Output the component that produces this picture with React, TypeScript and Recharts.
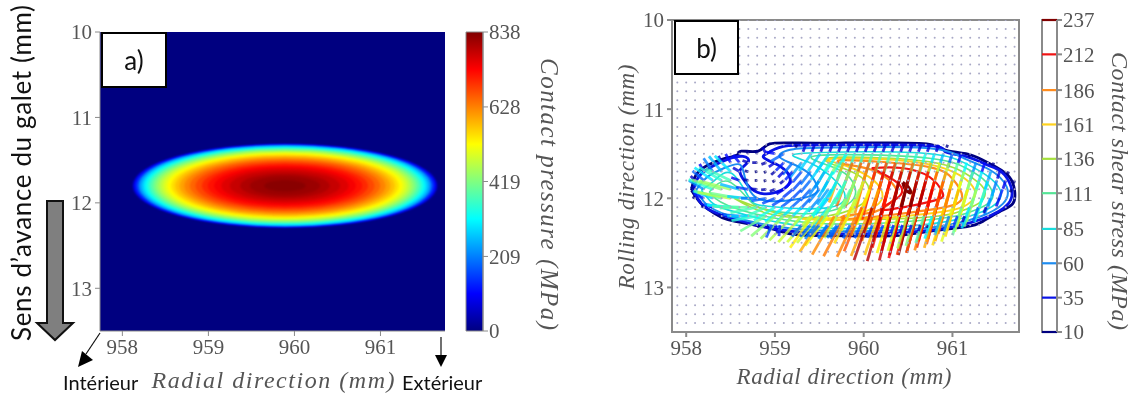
import React from "react";
import { ComposedChart, Line, Scatter, XAxis, YAxis, ReferenceArea, ReferenceLine } from "recharts";

// ---------- panel a: pressure field ----------
const radialTicks = [958, 959, 960, 961];
const rollingTicks = [10, 11, 12, 13];
const pressureTicks = [0, 209, 419, 628, 838];
const pressureCentre = { x: 959.89, y: 11.8 };
const pressureLevels = [60,100,150,200,225,250,275,300,325,350,375,400,425,450,475,500,525,550,575,600,625,650,675,700,720,740,760,780,800,815,830];
const pressureHalfX = [1.77,1.755,1.735,1.705,1.692,1.676,1.659,1.64,1.619,1.596,1.571,1.543,1.514,1.482,1.447,1.41,1.369,1.324,1.278,1.226,1.17,1.108,1.041,0.966,0.898,0.824,0.74,0.641,0.523,0.409,0.242];
const pressureHalfY = [0.488,0.484,0.478,0.47,0.466,0.462,0.457,0.452,0.446,0.44,0.433,0.425,0.417,0.408,0.399,0.388,0.377,0.365,0.352,0.338,0.322,0.305,0.287,0.266,0.247,0.227,0.204,0.177,0.144,0.113,0.067];

// ---------- panel b: quiver grid and shear vectors ----------
const gridX = [957.9,958,958.1,958.2,958.3,958.4,958.5,958.6,958.7,958.8,958.9,959,959.1,959.2,959.3,959.4,959.5,959.6,959.7,959.8,959.9,960,960.1,960.2,960.3,960.4,960.5,960.6,960.7,960.8,960.9,961,961.1,961.2,961.3,961.4,961.5,961.6,961.7];
const gridY = [10,10.1,10.2,10.3,10.4,10.5,10.6,10.7,10.8,10.9,11,11.1,11.2,11.3,11.4,11.5,11.6,11.7,11.8,11.9,12,12.1,12.2,12.3,12.4,12.5,12.6,12.7,12.8,12.9,13,13.1,13.2,13.3,13.4];
const shearRowY = [11.4,11.5,11.6,11.7,11.8,11.9,12.0,12.1,12.2,12.3];
const shearRowStart = [959.1,958.6,958.4,958.2,958.1,958.1,958.1,958.2,958.4,958.8];
const shearTau = [
  [12,30,30,30,30,30,30,30,30,30,30,30,30,30,30,30,30,12],
  [12,15,15,30,40,60,85,85,90,95,100,102,105,108,110,110,110,110,110,105,100,90,80,60,40,15],
  [30,40,40,25,20,20,30,45,62,75,85,105,125,170,186,188,190,190,195,195,190,185,178,165,150,135,115,95,70,40,15],
  [35,65,80,90,30,15,10,10,20,32,45,55,65,78,92,110,125,140,175,200,212,218,220,220,218,210,190,175,155,135,115,90,75,30,12],
  [25,60,90,105,110,35,20,10,10,12,20,40,55,62,70,80,90,105,122,140,165,185,205,232,235,228,222,210,188,170,150,130,110,90,65,35,12],
  [20,70,105,125,130,80,50,25,20,22,35,50,55,60,68,75,85,100,115,130,150,170,195,225,237,230,225,215,205,185,170,155,135,112,80,45,12],
  [12,45,85,115,135,120,85,65,60,55,55,58,60,62,70,85,95,112,128,142,160,180,205,225,235,235,225,205,190,178,160,140,120,100,70,35],
  [12,40,70,95,110,115,110,108,100,95,90,90,100,95,90,105,125,140,160,190,225,225,220,210,198,190,180,170,160,145,118,90,60,25],
  [15,35,65,85,105,120,125,130,135,140,140,140,150,155,170,178,182,180,172,165,155,145,135,125,112,95,80,65,50,25],
  [12,25,35,45,55,60,62,62,65,65,68,65,62,60,58,55,50,45,40,35,25,12],
];
const shearTilt = [
  [20,20,20,20,20,20,20,20,20,20,20,20,20,20,20,20,20,20],
  [150,150,150,150,100,60,35,35,35,35,35,18,18,18,18,18,18,18,18,18,18,18,18,18,18,18],
  [155,150,140,110,90,70,55,45,40,38,35,30,27,20,20,20,17,16,16,16,16,16,16,16,16,17,17,17,18,18,18],
  [150,145,140,135,120,100,80,60,50,45,42,40,38,32,28,25,22,20,15,15,15,15,15,15,15,15,16,16,16,17,17,18,18,18,18],
  [135,130,125,120,115,110,100,90,75,60,50,45,42,40,35,30,28,25,22,20,18,15,14,14,14,14,15,15,15,15,16,16,17,17,18,18,18],
  [125,120,112,108,105,105,100,95,85,70,58,50,45,42,40,36,32,30,26,24,20,18,15,14,14,14,15,15,15,15,16,16,17,18,18,20,20],
  [120,115,110,105,100,100,95,90,80,68,58,52,48,44,40,38,34,30,27,24,21,18,15,14,14,14,15,15,15,16,16,17,18,18,20,20],
  [115,105,100,95,92,88,78,66,58,52,48,45,42,40,38,35,32,28,25,22,19,16,14,14,15,15,16,16,17,18,18,20,20,22],
  [105,100,95,90,80,60,50,46,44,42,42,40,38,35,33,30,28,25,22,19,17,16,16,17,17,18,18,19,20,22],
  [-40,-40,-20,5,25,40,42,42,40,38,35,32,30,27,25,22,20,18,18,18,18,20],
];

// ---------- panel b: contour lines, [radial, rolling] ----------
const shearLevels = [10,35,60,85,111,136,161,186,212,237];
const contour10 = [[958.06,11.91],[958.11,11.74],[958.24,11.63],[958.41,11.56],[958.58,11.51],[958.62,11.47],[958.81,11.47],[958.94,11.39],[959.26,11.38],[959.79,11.38],[960.36,11.38],[960.77,11.4],[960.92,11.46],[961.15,11.5],[961.34,11.57],[961.49,11.65],[961.64,11.76],[961.7,11.91],[961.68,12.06],[961.53,12.15],[961.34,12.26],[961.15,12.32],[960.73,12.37],[960.36,12.42],[959.79,12.42],[959.26,12.41],[959.03,12.36],[958.77,12.3],[958.47,12.24],[958.32,12.17],[958.17,12.06],[958.06,11.91]];
const contour35 = [[958.08,11.91],[958.14,11.76],[958.28,11.65],[958.47,11.56],[958.64,11.53],[958.7,11.59],[958.61,11.68],[958.64,11.78],[958.73,11.89],[958.88,11.95],[959.07,11.91],[959.17,11.81],[959.13,11.7],[959,11.61],[958.87,11.54],[958.94,11.48],[959.15,11.41],[959.79,11.4],[960.74,11.41],[960.92,11.48],[961.15,11.53],[961.38,11.62],[961.55,11.7],[961.66,11.87],[961.63,12.06],[961.34,12.23],[960.74,12.36],[959.79,12.4],[959.04,12.35],[958.47,12.21],[958.2,12.09],[958.08,11.91]];
const contour60 = [[958.11,11.91],[958.24,11.76],[958.43,11.66],[958.6,11.62],[958.66,11.76],[958.75,11.96],[958.92,12.03],[959.19,12.02],[959.45,11.95],[959.47,11.85],[959.38,11.72],[959.19,11.61],[959.05,11.53],[959.21,11.45],[959.79,11.43],[960.74,11.44],[961.15,11.56],[961.42,11.68],[961.61,11.87],[961.57,12.06],[961.3,12.21],[960.74,12.33],[959.79,12.37],[959.04,12.32],[958.47,12.19],[958.22,12.06],[958.11,11.91]];
const contour85 = [[958.17,11.91],[958.32,11.8],[958.51,11.72],[958.7,11.98],[958.92,12.09],[959.56,12.11],[959.79,11.98],[959.68,11.8],[959.41,11.61],[959.21,11.51],[959.79,11.48],[960.74,11.5],[961.15,11.61],[961.38,11.74],[961.54,11.91],[961.49,12.06],[961.26,12.18],[960.74,12.29],[959.79,12.34],[959.04,12.27],[958.47,12.13],[958.28,12.04],[958.17,11.91]];
const contour111 = [[958.26,11.93],[958.47,11.81],[958.7,12.01],[958.92,12.13],[959.41,12.17],[959.83,12.06],[959.9,11.87],[959.72,11.68],[959.41,11.55],[959.79,11.51],[960.74,11.55],[961.15,11.66],[961.34,11.78],[961.45,11.93],[961.4,12.06],[961.15,12.17],[960.74,12.24],[959.79,12.29],[959.04,12.23],[958.47,12.08],[958.26,11.93]];
const contour136 = [[958.54,12],[958.92,12.17],[959.49,12.21],[959.94,12.09],[960.06,11.91],[959.9,11.72],[959.56,11.57],[959.98,11.54],[960.74,11.59],[961.11,11.7],[961.3,11.83],[961.37,11.94],[961.29,12.06],[961.08,12.15],[960.74,12.21],[959.79,12.24],[959.04,12.17],[958.54,12]];
const contour161 = [[959.3,12.23],[959.79,12.21],[960.13,12.09],[960.21,11.94],[960.06,11.76],[959.72,11.61],[959.6,11.56],[960.17,11.56],[960.74,11.62],[961.08,11.74],[961.23,11.87],[961.25,11.98],[961.13,12.09],[960.74,12.17],[959.87,12.24],[959.3,12.23]];
const contour186 = [[959.73,11.57],[960.17,11.59],[960.74,11.65],[961,11.78],[961.11,11.98],[961,12.08],[960.74,12.13],[960.28,12.19],[959.81,12.23],[959.81,12.19],[960.13,12.15],[960.36,11.98],[960.32,11.83],[960.09,11.68],[959.75,11.61],[959.73,11.57]];
const contour212 = [[960.09,11.66],[960.43,11.66],[960.74,11.76],[960.89,11.94],[960.74,12.04],[960.21,12.13],[960.4,11.98],[960.36,11.81],[960.17,11.7],[960.09,11.66]];
const contour237 = [[960.44,11.82],[960.5,11.87],[960.53,11.94],[960.47,11.9],[960.45,11.86],[960.44,11.82]];
const contours = [contour10,contour35,contour60,contour85,contour111,contour136,contour161,contour186,contour212,contour237];
const contourColors = ["#00007f","#0a14e6","#1e8cf0","#18dcdc","#55e496","#a5e03c","#ffd21e","#ff8c1e","#f01414","#800000"];
const contourWidths = [2.8,2.8,2,1.6,1.6,1.6,1.9,2.2,2.2,3];

// ---------- helpers ----------
const SERIF = "'Liberation Serif', serif";
const SANS = "Lato, 'Noto Sans', sans-serif";
const TICK = { fontFamily: SERIF, fontSize: 21, fill: "#555" };
const AXIS = "#8a8a8a";

const clamp = (v: number) => Math.max(0, Math.min(1, v));
const jet = (t: number) => {
  const c = (v: number) => Math.round(clamp(v) * 255);
  return `rgb(${c(1.5 - Math.abs(4 * t - 3))},${c(1.5 - Math.abs(4 * t - 2))},${c(1.5 - Math.abs(4 * t - 1))})`;
};
const jetStops = [0, 0.11, 0.125, 0.25, 0.375, 0.5, 0.625, 0.75, 0.875, 1];

const Ellipse = (p: any) => (
  <ellipse cx={p.x + p.width / 2} cy={p.y + p.height / 2} rx={p.width / 2} ry={p.height / 2} fill={p.fill} style={{ filter: "blur(1.2px)" }} />
);

const gridPoints = gridX.flatMap((x) => gridY.map((y) => ({ x, y })));

// near-vertical vectors line up into long streaks along their own tilt
const shearSegments = shearRowY.flatMap((y, r) =>
  shearTau[r].map((tau, i) => {
    const tilt = shearTilt[r][i];
    const a = (tilt * Math.PI) / 180;
    const x = shearRowStart[r] + i * 0.1 - (tilt > 0 && tilt <= 35 ? Math.tan(a) * (y - 11.8) : 0);
    const len = tau * 0.0028;
    return { x, y, x2: x - Math.sin(a) * len, y2: y + Math.cos(a) * len, tau };
  })
);

const Box = ({ left, top, w, h, text }: any) => (
  <div style={{ position: "absolute", left, top, width: w, height: h, boxSizing: "border-box", background: "#fff", border: "2px solid #000", fontFamily: SANS, fontSize: 26, color: "#111", display: "flex", alignItems: "center", justifyContent: "center" }}>{text}</div>
);
const Caption = ({ left, top, text }: any) => (
  <div style={{ position: "absolute", left, top, fontFamily: SANS, fontSize: 20, lineHeight: "18px", color: "#111", whiteSpace: "nowrap" }}>{text}</div>
);
const MathLabel = ({ x, y, rotate = 0, length, text, size = 21 }: any) => (
  <text transform={`translate(${x} ${y}) rotate(${rotate})`} textAnchor="middle" textLength={length} lengthAdjust="spacing" fontFamily={SERIF} fontStyle="italic" fontSize={size} fill="#555">{text}</text>
);

const W = 1136;
const H = 394;

export default function App() {
  return (
    <div style={{ position: "absolute", left: 0, top: 0, width: W, height: H, background: "#fff", overflow: "hidden", filter: "blur(0.65px)" }}>
      {/* panel a */}
      <div style={{ position: "absolute", left: 0, top: 0 }}>
        <ComposedChart width={W} height={H} margin={{ left: 40, right: W - 445, top: 32, bottom: 3 }}>
          <XAxis type="number" dataKey="x" domain={[957.74, 961.75]} ticks={radialTicks} tick={TICK} stroke={AXIS} tickSize={5} tickMargin={3} height={60} allowDataOverflow />
          <YAxis type="number" dataKey="y" domain={[10, 13.5]} reversed ticks={rollingTicks} tick={TICK} stroke={AXIS} tickSize={5} tickMargin={3} width={60} allowDataOverflow />
          <ReferenceArea x1={957.74} x2={961.75} y1={10} y2={13.5} fill={jet(0)} fillOpacity={1} stroke="none" />
          {pressureLevels.map((v, i) => (
            <ReferenceArea key={v} x1={pressureCentre.x - pressureHalfX[i]} x2={pressureCentre.x + pressureHalfX[i]} y1={pressureCentre.y - pressureHalfY[i]} y2={pressureCentre.y + pressureHalfY[i]} fill={jet(v / 838)} fillOpacity={1} stroke="none" shape={Ellipse} />
          ))}
        </ComposedChart>
      </div>
      {/* colour bar a */}
      <div style={{ position: "absolute", left: 0, top: 0 }}>
        <ComposedChart width={W} height={H} margin={{ left: 466, right: W - 483 - 90, top: 32, bottom: H - 331 }}>
          <defs>
            <linearGradient id="jetA" x1="0" y1="1" x2="0" y2="0">
              {jetStops.map((s) => <stop key={s} offset={s} stopColor={jet(s)} />)}
            </linearGradient>
          </defs>
          <XAxis type="number" dataKey="x" domain={[0, 1]} hide allowDataOverflow />
          <YAxis type="number" dataKey="y" orientation="right" domain={[0, 838]} ticks={pressureTicks} tick={TICK} stroke={AXIS} tickSize={5} tickMargin={1} width={90} allowDataOverflow />
          <ReferenceArea x1={0} x2={1} y1={0} y2={838} fill="url(#jetA)" fillOpacity={1} stroke={AXIS} />
        </ComposedChart>
      </div>
      {/* panel b */}
      <div style={{ position: "absolute", left: 0, top: 0 }}>
        <ComposedChart width={W} height={H} margin={{ left: 615, right: W - 1019, top: 20, bottom: 4 }}>
          <XAxis type="number" dataKey="x" domain={[957.84, 961.75]} ticks={radialTicks} tick={TICK} stroke={AXIS} strokeWidth={2} tickSize={5} tickMargin={3} height={58} allowDataOverflow />
          <YAxis type="number" dataKey="y" domain={[10, 13.5]} reversed ticks={rollingTicks} tick={TICK} stroke={AXIS} strokeWidth={2} tickSize={5} tickMargin={3} width={57} allowDataOverflow />
          <ReferenceArea x1={957.84} x2={961.75} y1={10} y2={13.5} fill="none" stroke={AXIS} strokeWidth={2} />
          <Scatter data={gridPoints} dataKey="y" isAnimationActive={false} shape={(p: any) => <circle cx={p.cx} cy={p.cy} r={1} fill="#a9a9c6" />} />
          {contours.map((c, i) => (
            <Line key={"c" + i} data={c.map(([x, y]) => ({ x, y }))} dataKey="y" type="natural" dot={false} stroke={contourColors[i]} strokeWidth={contourWidths[i]} isAnimationActive={false} legendType="none" />
          ))}
          {shearSegments.map((s, i) => (
            <Line key={"s" + i} data={[{ x: s.x, y: s.y }, { x: s.x2, y: s.y2 }]} dataKey="y" type="linear" dot={false} stroke={jet((s.tau - 10) / 227)} strokeWidth={2.8} strokeOpacity={0.8} isAnimationActive={false} legendType="none" />
          ))}
        </ComposedChart>
      </div>
      {/* colour bar b */}
      <div style={{ position: "absolute", left: 0, top: 0 }}>
        <ComposedChart width={W} height={H} margin={{ left: 1042, right: W - 1057 - 79, top: 20, bottom: H - 332 }}>
          <XAxis type="number" dataKey="x" domain={[0, 1]} hide allowDataOverflow />
          <YAxis type="number" dataKey="y" orientation="right" domain={[10, 237]} ticks={shearLevels} tick={TICK} stroke={AXIS} strokeWidth={2} tickSize={5} tickMargin={1} width={79} allowDataOverflow />
          <ReferenceArea x1={0} x2={1} y1={10} y2={237} fill="#fff" fillOpacity={1} stroke={AXIS} strokeWidth={2} />
          {shearLevels.map((v, i) => (
            <ReferenceLine key={v} y={v} stroke={contourColors[i]} strokeWidth={2.2} />
          ))}
        </ComposedChart>
      </div>
      {/* annotations */}
      <Box left={101} top={32} w={66} h={56} text="a)" />
      <Box left={674} top={20} w={65} h={55} text="b)" />
      <svg width={W} height={H} style={{ position: "absolute", left: 0, top: 0 }}>
        <text transform="translate(31 173) rotate(-90)" textAnchor="middle" textLength={336} fontFamily={SANS} fontSize={26} fill="#111">Sens d’avance du galet (mm)</text>
        <MathLabel x={273} y={388} length={243} size={24} text="Radial direction (mm)" />
        <MathLabel x={844} y={384} length={215} size={23} text="Radial direction (mm)" />
        <MathLabel x={634} y={177} rotate={-90} length={225} size={23} text="Rolling direction (mm)" />
        <MathLabel x={541} y={194} rotate={90} length={272} size={25} text="Contact pressure (MPa)" />
        <MathLabel x={1112} y={191} rotate={90} length={278} size={24} text="Contact shear stress (MPa)" />
        <path d="M47 201 H63 V323 H73 L55 340 L37 323 H47 Z" fill="#7f7f7f" stroke="#111" strokeWidth={2} />
        <path d="M100 333 L86 354" stroke="#111" strokeWidth={1.2} fill="none" />
        <path d="M78 367 L82 351 L93 360 Z" fill="#000" />
        <path d="M441 337 V358" stroke="#111" strokeWidth={1.2} fill="none" />
        <path d="M441 367 L435 355 H447 Z" fill="#000" />
      </svg>
      <Caption left={63} top={373} text="Intérieur" />
      <Caption left={402} top={373} text="Extérieur" />
    </div>
  );
}
